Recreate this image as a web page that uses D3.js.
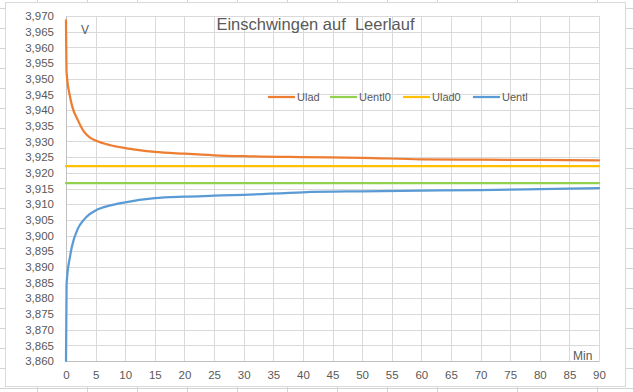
<!DOCTYPE html>
<html>
<head>
<meta charset="utf-8">
<script src="https://cdn.jsdelivr.net/npm/d3@7"></script>
<style>
  body { margin: 0; background: #fff; }
  text { font-family: "Liberation Sans", Arial, sans-serif; fill: #595959; }
</style>
</head>
<body>
<script>
// time in minutes
var minutes = [0, 0.1, 0.7, 1, 2, 3, 4, 5, 7.5, 10, 15, 20, 25, 30, 40, 50, 60, 70, 80, 90];
var ulad = [3.9686, 3.952, 3.9441, 3.9415, 3.9368, 3.9332, 3.9313, 3.9303, 3.9288, 3.9279,
  3.9267, 3.9261, 3.9256, 3.9253, 3.925, 3.9248, 3.9243, 3.9242, 3.9241, 3.924];
var uentl = [3.86, 3.8846, 3.8935, 3.8965, 3.9022, 3.905, 3.9068, 3.908, 3.9096, 3.9106,
  3.9119, 3.9124, 3.9127, 3.913, 3.9138, 3.9141, 3.9143, 3.9145, 3.9148, 3.9151];
var uentl0 = 3.9167;
var ulad0 = 3.9221;
var seriesNames = ["Ulad", "Uentl0", "Ulad0", "Uentl"];
var seriesColors = ["#ed7d31", "#92d050", "#ffc000", "#5b9bd5"];
var xTicks = d3.range(0, 91, 5);
var yTicks = d3.range(3.86, 3.9701, 0.005);

var W = 633, H = 392;
var m = { left: 66, right: 599, top: 16, bottom: 361 };

var de = d3.formatLocale({ decimal: ",", thousands: ".", grouping: [3], currency: ["", "€"] });
var fmt = de.format(".3f");

var svg = d3.select("body").append("svg").attr("width", W).attr("height", H);

// spreadsheet cells behind the chart
var sheetCols = [37, 87, 137, 187, 237, 287, 337, 387, 437, 517, 597];
svg.selectAll(".col").data(sheetCols).enter().append("line")
  .attr("x1", d => d + 0.5).attr("x2", d => d + 0.5)
  .attr("y1", 0).attr("y2", H)
  .attr("stroke", "#d4d4d4");
svg.selectAll(".row").data(d3.range(8, H, 20)).enter().append("line")
  .attr("x1", 0).attr("x2", W)
  .attr("y1", d => d + 0.5).attr("y2", d => d + 0.5)
  .attr("stroke", "#d4d4d4");

// chart area
svg.append("rect")
  .attr("x", 5.5).attr("y", 2.5)
  .attr("width", 620).attr("height", 384)
  .attr("fill", "#fff").attr("stroke", "#d9d9d9");

var x = d3.scaleLinear().domain([0, 90]).range([m.left, m.right]);
var y = d3.scaleLinear().domain([3.86, 3.97]).range([m.bottom, m.top]);

// grid
svg.append("g").selectAll("line").data(yTicks).enter().append("line")
  .attr("x1", m.left).attr("x2", m.right)
  .attr("y1", d => Math.round(y(d)) + 0.5).attr("y2", d => Math.round(y(d)) + 0.5)
  .attr("stroke", "#d9d9d9");
svg.append("g").selectAll("line").data(xTicks).enter().append("line")
  .attr("x1", d => Math.round(x(d)) + 0.5).attr("x2", d => Math.round(x(d)) + 0.5)
  .attr("y1", m.top).attr("y2", m.bottom)
  .attr("stroke", "#d9d9d9");

// axes
svg.append("g")
  .attr("transform", "translate(" + m.left + ",0)")
  .call(d3.axisLeft(y).tickValues(yTicks).tickFormat(fmt).tickSize(0).tickPadding(12));
svg.append("g")
  .attr("transform", "translate(0," + m.bottom + ")")
  .call(d3.axisBottom(x).tickValues(xTicks).tickSize(0).tickPadding(10));
svg.selectAll(".domain").attr("stroke", "#bfbfbf");
svg.selectAll(".tick text")
  .attr("fill", "#595959")
  .style("font-size", "11.5px")
  .style("font-family", "Liberation Sans, Arial, sans-serif");

// lines
var line = d3.line()
  .x(d => x(d[0]))
  .y(d => y(d[1]))
  .curve(d3.curveMonotoneX);

var seriesData = [
  minutes.map((t, i) => [t, ulad[i]]),
  [[0, uentl0], [90, uentl0]],
  [[0, ulad0], [90, ulad0]],
  minutes.map((t, i) => [t, uentl[i]])
];

svg.append("g").selectAll("path").data(seriesData).enter().append("path")
  .attr("d", line)
  .attr("fill", "none")
  .attr("stroke", (d, i) => seriesColors[i])
  .attr("stroke-width", 2.25)
  .attr("stroke-linejoin", "round")
  .attr("stroke-linecap", "round");

// title and labels
svg.append("text")
  .attr("x", 315.5).attr("y", 30)
  .attr("text-anchor", "middle")
  .style("font-size", "16.5px")
  .style("white-space", "pre")
  .text("Einschwingen auf  Leerlauf");

svg.append("text").attr("x", 81).attr("y", 34).style("font-size", "12px").text("V");
svg.append("text").attr("x", 573).attr("y", 360).style("font-size", "12px").text("Min");

// legend
var legendX = [268, 330, 403, 473];
var legend = svg.append("g").selectAll("g").data(seriesNames).enter().append("g")
  .attr("transform", (d, i) => "translate(" + legendX[i] + ",97)");
legend.append("line")
  .attr("x1", 0).attr("x2", 27)
  .attr("stroke", (d, i) => seriesColors[i])
  .attr("stroke-width", 2.25);
legend.append("text")
  .attr("x", 29).attr("y", 4)
  .style("font-size", "11px")
  .text(d => d);
</script>
</body>
</html>
